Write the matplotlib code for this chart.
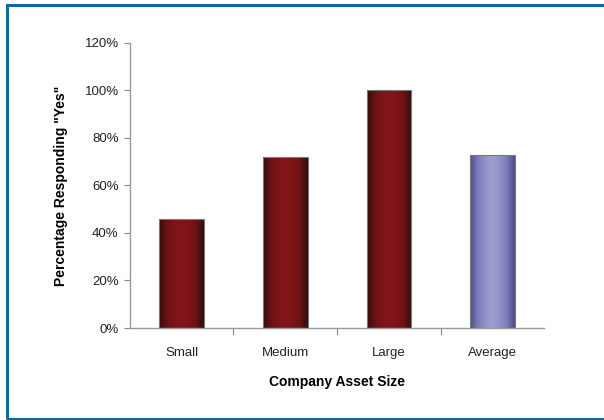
import numpy as np
import matplotlib
matplotlib.use("Agg")
import matplotlib.pyplot as plt
from matplotlib.colors import LinearSegmentedColormap
from matplotlib.patches import Rectangle
from matplotlib.ticker import FuncFormatter, FixedLocator

categories = ["Small", "Medium", "Large", "Average"]
values = [0.46, 0.72, 1.00, 0.73]
bar_kinds = ["size", "size", "size", "avg"]
y_ticks = [0.0, 0.2, 0.4, 0.6, 0.8, 1.0, 1.2]

plt.rcParams['font.family'] = ['Liberation Sans', 'DejaVu Sans']

# dark edges, lighter centre, like a shaded cylinder
cmaps = {
    "size": LinearSegmentedColormap.from_list("red", ["#2e0c0c", "#6a1214", "#84151a"]),
    "avg": LinearSegmentedColormap.from_list("blue", ["#4a4a88", "#7b7bbb", "#9c9cd0"]),
}

fig = plt.figure(figsize=(6.04, 4.2), dpi=100)
ax = fig.add_axes([0.215, 0.219, 0.686, 0.679])

x = np.arange(len(categories))
width = 0.43
profile = 1 - np.abs(np.linspace(-1, 1, 200)) ** 1.6
profile = profile[np.newaxis, :]

for xi, v, kind in zip(x, values, bar_kinds):
    bar = Rectangle((xi - width / 2, 0), width, v, facecolor="none",
                    edgecolor="#7a7a7a", linewidth=0.8, zorder=3)
    ax.add_patch(bar)
    img = ax.imshow(profile, cmap=cmaps[kind], aspect="auto",
                    extent=[xi - width / 2, xi + width / 2, 0, v],
                    interpolation="bilinear", zorder=2)
    img.set_clip_path(bar)

ax.set_xlim(-0.5, len(categories) - 0.5)
ax.set_ylim(0, 1.2)
ax.set_yticks(y_ticks)
ax.yaxis.set_major_formatter(FuncFormatter(lambda v, p: f"{v * 100:.0f}%"))

# categories sit between tick marks
ax.xaxis.set_major_locator(FixedLocator(np.arange(0.5, len(categories) - 0.5, 1)))
ax.xaxis.set_minor_locator(FixedLocator(x))
ax.set_xticklabels([])
ax.set_xticklabels(categories, minor=True)
ax.tick_params(axis="x", which="major", length=5, color="#888888", direction="out")
ax.tick_params(axis="x", which="minor", length=0, pad=14, labelsize=9.5, labelcolor="#222222")
ax.tick_params(axis="y", length=4, color="#888888", labelsize=9.5, pad=4, labelcolor="#222222")

for side in ["top", "right"]:
    ax.spines[side].set_visible(False)
for side in ["left", "bottom"]:
    ax.spines[side].set_color("#999999")
    ax.spines[side].set_linewidth(1.0)

ax.set_xlabel("Company Asset Size", fontsize=10, fontweight="bold", labelpad=11)
ax.set_ylabel('Percentage Responding "Yes"', fontsize=10, fontweight="bold", labelpad=12)

# frame around the chart
fig.patches.append(Rectangle((6.5 / 604, 1.5 / 420), 1.05, 414 / 420,
                             transform=fig.transFigure, fill=False,
                             edgecolor="#11689a", linewidth=2.2))

fig.savefig("out.png", dpi=100)
